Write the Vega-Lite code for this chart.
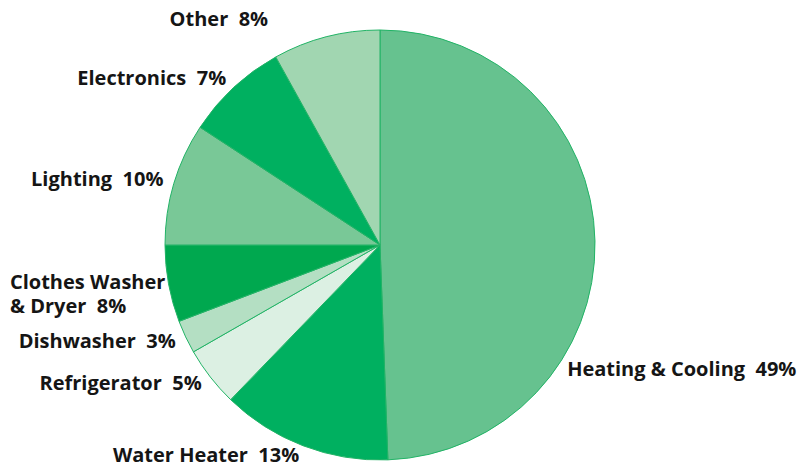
{
  "$schema": "https://vega.github.io/schema/vega-lite/v6.json",
  "width": 760,
  "height": 448,
  "autosize": {"type": "none"},
  "padding": {"left": 0, "top": 21, "right": 37, "bottom": 0},
  "background": "white",
  "config": {"view": {"stroke": null}},
  "data": {
    "values": [
      {"idx": 1, "category": "Heating & Cooling", "label": "Heating & Cooling\u00a0 49%", "share": 177.9},
      {"idx": 2, "category": "Water Heater", "label": "Water Heater\u00a0 13%", "share": 46.1},
      {"idx": 3, "category": "Refrigerator", "label": "Refrigerator\u00a0 5%", "share": 16.2},
      {"idx": 4, "category": "Dishwasher", "label": "Dishwasher\u00a0 3%", "share": 9.0},
      {"idx": 5, "category": "Clothes Washer & Dryer", "label": "Clothes Washer\n& Dryer\u00a0 8%", "share": 20.8},
      {"idx": 6, "category": "Lighting", "label": "Lighting\u00a0 10%", "share": 33.2},
      {"idx": 7, "category": "Electronics", "label": "Electronics\u00a0 7%", "share": 27.8},
      {"idx": 8, "category": "Other", "label": "Other\u00a0 8%", "share": 29.0}
    ]
  },
  "encoding": {
    "theta": {"field": "share", "type": "quantitative", "stack": true},
    "order": {"field": "idx", "type": "quantitative"}
  },
  "layer": [
    {
      "mark": {"type": "arc", "outerRadius": 215, "stroke": "#22b366", "strokeWidth": 1},
      "encoding": {
        "color": {
          "field": "category",
          "type": "nominal",
          "legend": null,
          "scale": {
            "domain": ["Heating & Cooling", "Water Heater", "Refrigerator", "Dishwasher", "Clothes Washer & Dryer", "Lighting", "Electronics", "Other"],
            "range": ["#66c28f", "#00b060", "#dcf0e3", "#b4dfc3", "#00a84f", "#79c897", "#00b060", "#a1d6b1"]
          }
        }
      }
    },
    {
      "mark": {"type": "text", "radius": 226, "align": "right", "baseline": "middle", "font": "Open Sans", "fontWeight": "bold", "fontSize": 20, "color": "#151515"},
      "encoding": {
        "text": {"condition": {"test": "datum.idx == 1 || datum.idx == 5 || datum.idx == 8", "value": ""}, "field": "label", "type": "nominal"}
      }
    },
    {
      "mark": {"type": "text", "radius": 372, "thetaOffset": 0.079, "align": "left", "baseline": "middle", "font": "Open Sans", "fontWeight": "bold", "fontSize": 20, "lineBreak": "\n", "lineHeight": 24, "color": "#151515"},
      "encoding": {
        "text": {"condition": {"test": "datum.idx != 5", "value": ""}, "field": "label", "type": "nominal"}
      }
    },
    {
      "mark": {"type": "text", "radius": 225, "thetaOffset": 0.607, "align": "left", "baseline": "middle", "font": "Open Sans", "fontWeight": "bold", "fontSize": 20, "color": "#151515"},
      "encoding": {
        "text": {"condition": {"test": "datum.idx != 1", "value": ""}, "field": "label", "type": "nominal"}
      }
    },
    {
      "mark": {"type": "text", "radius": 251, "thetaOffset": -0.209, "align": "right", "baseline": "middle", "font": "Open Sans", "fontWeight": "bold", "fontSize": 20, "color": "#151515"},
      "encoding": {
        "text": {"condition": {"test": "datum.idx != 8", "value": ""}, "field": "label", "type": "nominal"}
      }
    }
  ]
}
